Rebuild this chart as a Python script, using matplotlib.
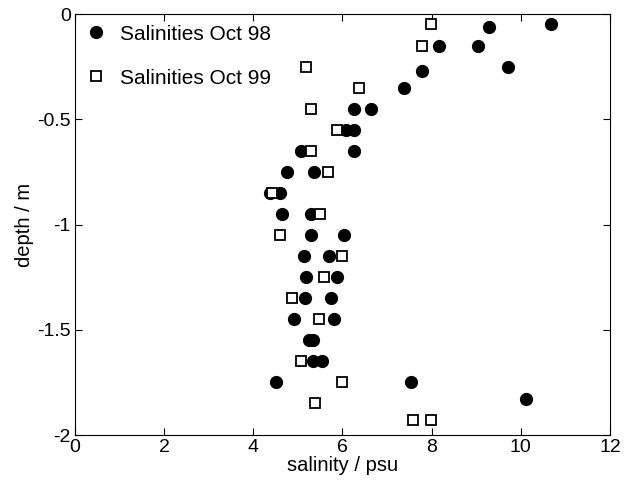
import numpy as np
import matplotlib
matplotlib.use("Agg")
import matplotlib.pyplot as plt

plt.rcParams['font.family'] = ['Liberation Sans', 'DejaVu Sans']

# Oct 98 salinities (psu) and depths (m)
sal98 = [10.67, 9.28, 8.17, 9.05, 9.72, 7.79, 7.38, 6.27, 6.64, 6.07, 6.27,
         5.07, 6.25, 4.75, 5.37, 4.38, 4.59, 4.65, 5.29, 5.29, 6.03, 5.13, 5.71,
         5.18, 5.87, 5.15, 5.74, 4.92, 5.82, 5.24, 5.33, 5.33, 5.54, 4.52, 7.53,
         10.12]
dep98 = [-0.045, -0.06, -0.15, -0.15, -0.25, -0.27, -0.35, -0.45, -0.45, -0.55, -0.55,
         -0.65, -0.65, -0.75, -0.75, -0.85, -0.85, -0.95, -0.95, -1.05, -1.05, -1.15, -1.15,
         -1.25, -1.25, -1.35, -1.35, -1.45, -1.45, -1.55, -1.55, -1.65, -1.65, -1.75, -1.75,
         -1.83]

# Oct 99
sal99 = [7.98, 7.78, 5.18, 6.38, 5.29, 5.89, 5.29, 5.68, 4.42, 5.5, 4.59, 6.0,
         5.59, 4.86, 5.48, 5.07, 6.0, 5.38, 7.58, 7.98]
dep99 = [-0.045, -0.15, -0.25, -0.35, -0.45, -0.55, -0.65, -0.75, -0.85, -0.95, -1.05, -1.15,
         -1.25, -1.35, -1.45, -1.65, -1.75, -1.85, -1.93, -1.93]

fig = plt.figure(figsize=(6.4, 4.91), dpi=100)
ax = fig.add_axes([0.117, 0.114, 0.836, 0.857])

ax.plot(sal98, dep98, 'o', color='black', markersize=8.5, linestyle='none',
        label='Salinities Oct 98')
ax.plot(sal99, dep99, 's', markerfacecolor='white', markeredgecolor='black',
        markeredgewidth=1.3, markersize=7, linestyle='none', label='Salinities Oct 99')

ax.set_xlim(0, 12)
ax.set_ylim(-2, 0)
ax.set_xticks([0, 2, 4, 6, 8, 10, 12])
ax.set_yticks([-2, -1.5, -1, -0.5, 0])
ax.set_yticklabels(['-2', '-1.5', '-1', '-0.5', '0'])
ax.tick_params(direction='in', top=True, right=True, labelsize=14, length=5, pad=3)
ax.set_xlabel('salinity / psu', fontsize=14.5, labelpad=0)
ax.set_ylabel('depth / m', fontsize=14.5, labelpad=2)

ax.legend(loc='upper left', frameon=False, fontsize=15, labelspacing=1.2,
          handletextpad=0.65, handlelength=1.0, borderaxespad=0.1)

fig.savefig('out.png', dpi=100)
